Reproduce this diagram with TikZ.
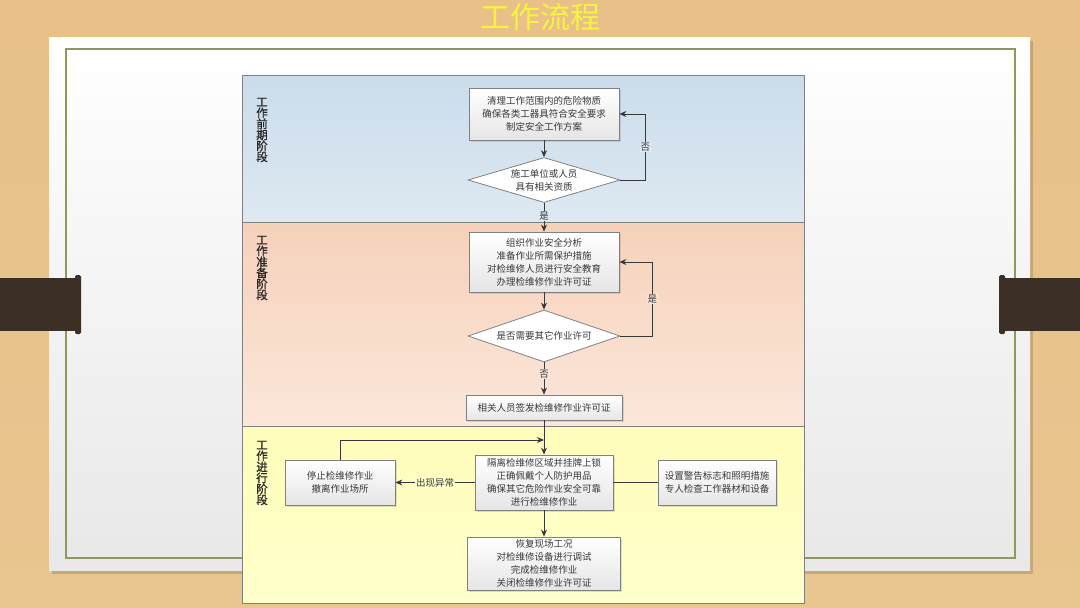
\documentclass[tikz,border=0pt]{standalone}
\usepackage{fontspec}
\setmainfont{Noto Sans CJK SC}
\newfontfamily\lanefont{Noto Sans CJK SC}[FakeBold=1.2]
\usetikzlibrary{shapes.geometric,arrows.meta,shadows}
\definecolor{wood}{HTML}{E9C58F}
\definecolor{woodtop}{HTML}{E8C088}
\definecolor{barc}{HTML}{3B2F26}
\definecolor{frameg}{HTML}{8C9A5E}
\definecolor{laneline}{HTML}{808080}
\definecolor{blueA}{HTML}{CADCEB}
\definecolor{blueB}{HTML}{DEE9F2}
\definecolor{peachA}{HTML}{F6D1BA}
\definecolor{peachB}{HTML}{FBE7DA}
\definecolor{yelA}{HTML}{FFFDBA}
\definecolor{yelB}{HTML}{FFFFCB}
\definecolor{txt}{HTML}{383838}
\definecolor{arrc}{HTML}{383838}
\definecolor{titley}{HTML}{F6F43E}
\tikzset{
  stepbox/.style={draw=laneline, line width=0.8pt, top color=white, bottom color=black!10,
    text=txt, align=center, font=\fontsize{9.5}{13}\selectfont, inner sep=1pt,
    drop shadow={shadow xshift=1.5pt, shadow yshift=-1.5pt, opacity=0.25}},
  decide/.style={diamond, draw=laneline, line width=0.8pt, fill=white, text=txt, align=center,
    font=\fontsize{9.5}{13}\selectfont, inner sep=0pt},
  lanebox/.style={draw=laneline, line width=1pt},
  lanelabel/.style={align=center, font=\lanefont\fontsize{11.5}{11}\selectfont, text=black!85, inner sep=0pt},
  arr/.style={draw=arrc, line width=0.9pt, -{Stealth[length=7pt,width=6pt]}},
  conn/.style={draw=arrc, line width=0.9pt},
  lbl/.style={font=\fontsize{9.5}{11}\selectfont, text=txt, inner sep=1pt},
}
\begin{document}
\begin{tikzpicture}[x=1pt,y=-1pt]
\useasboundingbox (0,0) rectangle (1080,608);
% background
\fill[top color=woodtop, bottom color=wood] (0,0) rectangle (1080,608);
% panel with shadow
\fill[black, opacity=0.15] (52,41) rectangle (1033,574);
\fill[top color=white, bottom color=black!9] (49,37) rectangle (1030,570);
\draw[frameg, line width=1.3pt] (66,49) rectangle (1015,558);
% side bars
\fill[barc] (0,278) rectangle (78,331);
\fill[barc, rounded corners=1.5pt] (75,275) rectangle (81,334);
\fill[barc] (1002,278) rectangle (1080,331);
\fill[barc, rounded corners=1.5pt] (999,275) rectangle (1005,334);
% title
\node[text=titley, font=\fontsize{30}{30}\selectfont, inner sep=0pt] (title) at (540,17) {工作流程};
% lanes
\draw[lanebox, top color=blueA, bottom color=blueB] (242,75) rectangle (804,222);
\draw[lanebox, top color=peachA, bottom color=peachB] (242,222) rectangle (804,426);
\draw[lanebox, top color=yelA, bottom color=yelB] (242,426) rectangle (804,603);
\node[lanelabel] (l1) at (262,130) {工\\作\\前\\期\\阶\\段};
\node[lanelabel] (l2) at (262,268) {工\\作\\准\\备\\阶\\段};
\node[lanelabel] (l3) at (262,473) {工\\作\\进\\行\\阶\\段};
% nodes
\node[stepbox, minimum width=150pt, minimum height=52pt] (b1) at (544,114)
  {清理工作范围内的危险物质\\确保各类工器具符合安全要求\\制定安全工作方案};
\node[decide, aspect=3.3, minimum width=152pt, minimum height=45pt] (d1) at (544,180)
  {施工单位或人员\\具有相关资质};
\node[stepbox, minimum width=150pt, minimum height=60pt] (b2) at (544,262)
  {组织作业安全分析\\准备作业所需保护措施\\对检维修人员进行安全教育\\办理检维修作业许可证};
\node[decide, aspect=2.9, minimum width=152pt, minimum height=52pt] (d2) at (544,336)
  {是否需要其它作业许可};
\node[stepbox, minimum width=156pt, minimum height=25pt] (b3) at (544,407.5)
  {相关人员签发检维修作业许可证};
\node[stepbox, minimum width=138pt, minimum height=55pt] (b4) at (544,482.5)
  {隔离检维修区域并挂牌上锁\\正确佩戴个人防护用品\\确保其它危险作业安全可靠\\进行检维修作业};
\node[stepbox, minimum width=110pt, minimum height=45pt] (b5) at (340,482.5)
  {停止检维修作业\\撤离作业场所};
\node[stepbox, minimum width=118pt, minimum height=45pt] (b6) at (717,482.5)
  {设置警告标志和照明措施\\专人检查工作器材和设备};
\node[stepbox, minimum width=153pt, minimum height=53pt] (b7) at (544,563.5)
  {恢复现场工况\\对检维修设备进行调试\\完成检维修作业\\关闭检维修作业许可证};
\coordinate (j) at (544,440);
% connectors
\draw[arr] (b1.south) -- (d1.north);
\draw[arr] (d1.east) -- ++(25,0) |- (b1.east) node[lbl, pos=0.25, fill=blueB] {否};
\draw[arr] (d1.south) -- (b2.north) node[lbl, pos=0.45, fill=blueB] {是};
\draw[arr] (b2.south) -- (d2.north);
\draw[arr] (d2.east) -- ++(32,0) |- (b2.east) node[lbl, pos=0.25, fill=peachA!60!white] {是};
\draw[arr] (d2.south) -- (b3.north) node[lbl, pos=0.35, fill=peachB] {否};
\draw[arr] (b3.south) -- (b4.north);
\draw[arr] (b4.west) -- (b5.east) node[lbl, midway, fill=yelB] {出现异常};
\draw[arr] (b5.north) |- (j);
\draw[conn] (b4.east) -- (b6.west);
\draw[arr] (b4.south) -- (b7.north);
\end{tikzpicture}
\end{document}
